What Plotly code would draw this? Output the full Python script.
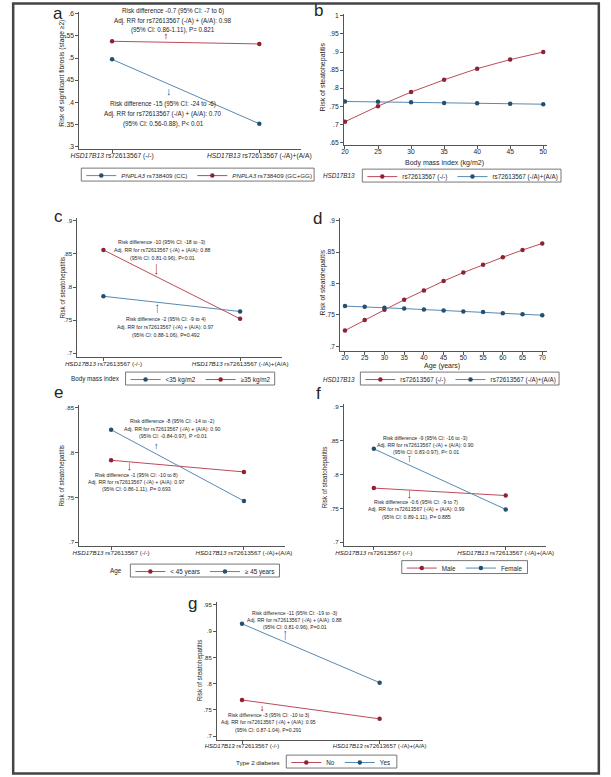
import re
import plotly.graph_objects as go

# ---------------- data ----------------
geno_cats = ["<i>HSD17B13</i> rs72613567 (-/-)", "<i>HSD17B13</i> rs72613567 (-/A)+(A/A)"]
geno_cats_g = ["<i>HSD17B13</i> rs72613567 (-/-)", "<i>HSD17B13</i> rs72613657 (-/A)+(A/A)"]

a_cc = [0.497, 0.351]
a_gcgg = [0.538, 0.532]

bmi = [20, 25, 30, 35, 40, 45, 50]
b_wt = [0.707, 0.750, 0.789, 0.823, 0.854, 0.879, 0.900]
b_var = [0.763, 0.762, 0.761, 0.759, 0.758, 0.7566, 0.7555]

c_lt35 = [0.786, 0.763]
c_ge35 = [0.856, 0.752]

age = [20, 25, 30, 35, 40, 45, 50, 55, 60, 65, 70]
d_wt = [0.725, 0.742, 0.758, 0.774, 0.789, 0.804, 0.8175, 0.830, 0.842, 0.8535, 0.864]
d_var = [0.764, 0.763, 0.7615, 0.760, 0.7585, 0.757, 0.7555, 0.7545, 0.7525, 0.751, 0.7495]

e_lt45 = [0.7915, 0.7785]
e_ge45 = [0.8256, 0.746]

f_male = [0.780, 0.769]
f_female = [0.838, 0.7485]

g_no = [0.769, 0.733]
g_yes = [0.914, 0.802]

ticks_a = [0.3, 0.35, 0.4, 0.45, 0.5, 0.55, 0.6]
labels_a = [".3", ".35", ".4", ".45", ".5", ".55", ".6"]
ticks_b = [0.65, 0.7, 0.75, 0.8, 0.85, 0.9, 0.95, 1.0]
labels_b = [".65", ".7", ".75", ".8", ".85", ".9", ".95", "1"]
ticks_c = [0.7, 0.75, 0.8, 0.85, 0.9]
labels_c = [".7", ".75", ".8", ".85", ".9"]
ticks_e = [0.7, 0.75, 0.8, 0.85]
labels_e = [".7", ".75", ".8", ".85"]
ticks_g = [0.7, 0.75, 0.8, 0.85, 0.9, 0.95]
labels_g = [".7", ".75", ".8", ".85", ".9", ".95"]

# ---------------- style ----------------
W, H = 611, 777
RED_L, RED_M = "#bb4b5a", "#8e2233"
BLUE_L, BLUE_M = "#5889b2", "#24506f"
FONT = "Liberation Sans, Arial, sans-serif"
TXT = "#262626"
AX = "#555555"

# approximate Arial / Liberation Sans advance widths (1/1000 em) for legend frame sizing
CW = {' ': 278, '(': 333, ')': 333, '+': 584, '-': 333, '.': 278, '/': 278, ':': 278,
      '<': 584, '≥': 549, 'A': 667, 'B': 667, 'C': 722, 'D': 722, 'F': 611, 'G': 778,
      'H': 722, 'L': 556, 'M': 833, 'N': 722, 'P': 667, 'S': 667, 'Y': 667,
      'a': 556, 'e': 556, 'g': 556, 'k': 500, 'l': 222, 'm': 833, 'o': 556, 'r': 333,
      's': 500, 'y': 500, 'n': 556, 'i': 222, 't': 278, 'f': 278}


def text_w(s, size):
    s = re.sub(r"<[^>]+>", "", s)
    return sum(CW.get(ch, 556) for ch in s) * size / 1000.0


def fx(p):
    return p / W


def fy(p):
    return 1 - p / H


def lin_range(v1, p1, v2, p2, lo_px, hi_px):
    s = (v2 - v1) / (p2 - p1)
    return [v1 + (lo_px - p1) * s, v1 + (hi_px - p1) * s]


fig = go.Figure()
layout = dict(width=W, height=H, margin=dict(l=0, r=0, t=0, b=0),
              paper_bgcolor="white", plot_bgcolor="white",
              font=dict(family=FONT, color=TXT), showlegend=True)


def axes(n, xl, xr, yt, yb, xrange, yrange, yt_vals, yt_text, xcat, tfs, xtickvals=None):
    xk = "xaxis" if n == 1 else f"xaxis{n}"
    yk = "yaxis" if n == 1 else f"yaxis{n}"
    xa = dict(domain=[fx(xl), fx(xr)], anchor="y" if n == 1 else f"y{n}", range=xrange,
              showline=True, linecolor=AX, linewidth=1, ticks="outside", ticklen=3,
              tickcolor=AX, tickwidth=1, showgrid=False, zeroline=False,
              ticklabelstandoff=-3,
              tickfont=dict(size=tfs, color=TXT, family=FONT))
    if xcat:
        xa["type"] = "category"
    else:
        xa["tickvals"] = xtickvals
    ya = dict(domain=[fy(yb), fy(yt)], anchor="x" if n == 1 else f"x{n}", range=yrange,
              showline=True, linecolor=AX, linewidth=1, ticks="outside", ticklen=3,
              tickcolor=AX, tickwidth=1, showgrid=False, zeroline=False,
              tickvals=yt_vals, ticktext=yt_text,
              tickfont=dict(size=tfs, color=TXT, family=FONT))
    layout[xk] = xa
    layout[yk] = ya


leg_names = {}


def trace(n, x, y, lc, mc, name, leg):
    leg_names.setdefault(leg, []).append(name)
    fig.add_trace(go.Scatter(
        x=x, y=y, mode="lines+markers", name=name,
        xaxis="x" if n == 1 else f"x{n}", yaxis="y" if n == 1 else f"y{n}",
        line=dict(color=lc, width=1), marker=dict(color=mc, size=4.5),
        legend=leg, hoverinfo="skip"))


# panel a
axes(1, 70, 300, 10, 148, lin_range(0, 104, 1, 257, 70, 300),
     lin_range(0.3, 145, 0.6, 12, 148, 10), ticks_a, labels_a, True, 6.7)
trace(1, geno_cats, a_cc, BLUE_L, BLUE_M, "<i>PNPLA3</i> rs738409 (CC)", "legend")
trace(1, geno_cats, a_gcgg, RED_L, RED_M, "<i>PNPLA3</i> rs738409 (GC+GG)", "legend")

# panel b
axes(2, 345, 556, 12, 144, lin_range(20, 346, 50, 552, 345, 556),
     lin_range(0.65, 141, 1.0, 14, 144, 12), ticks_b, labels_b, False, 6.7, bmi)
trace(2, bmi, b_wt, RED_L, RED_M, "rs72613567 (-/-)", "legend2")
trace(2, bmi, b_var, BLUE_L, BLUE_M, "rs72613567 (-/A)+(A/A)", "legend2")

# panel c
axes(3, 68, 281, 217, 357, lin_range(0, 95, 1, 237, 68, 281),
     lin_range(0.7, 353, 0.9, 220, 357, 217), ticks_c, labels_c, True, 6.2)
trace(3, geno_cats, c_lt35, BLUE_L, BLUE_M, "<35 kg/m2", "legend3")
trace(3, geno_cats, c_ge35, RED_L, RED_M, "≥35 kg/m2", "legend3")

# panel d
axes(4, 341, 556, 217, 351, lin_range(20, 346, 70, 551, 341, 556),
     lin_range(0.7, 346, 0.9, 220, 351, 217), ticks_c, labels_c, False, 6.5, age)
trace(4, age, d_wt, RED_L, RED_M, "rs72613567 (-/-)", "legend4")
trace(4, age, d_var, BLUE_L, BLUE_M, "rs72613567 (-/A)+(A/A)", "legend4")

# panel e
axes(5, 70, 284, 405, 547, lin_range(0, 103, 1, 241, 70, 284),
     lin_range(0.7, 543, 0.85, 408, 547, 405), ticks_e, labels_e, True, 6.2)
trace(5, geno_cats, e_lt45, RED_L, RED_M, "< 45 years", "legend5")
trace(5, geno_cats, e_ge45, BLUE_L, BLUE_M, "≥ 45 years", "legend5")

# panel f
axes(6, 345, 555, 404, 547, lin_range(0, 376, 1, 513, 345, 555),
     lin_range(0.7, 543, 0.9, 407, 547, 404), ticks_c, labels_c, True, 6.2)
trace(6, geno_cats, f_male, RED_L, RED_M, "Male", "legend6")
trace(6, geno_cats, f_female, BLUE_L, BLUE_M, "Female", "legend6")

# panel g
axes(7, 213, 427, 603, 742, lin_range(0, 239, 1, 382, 213, 427),
     lin_range(0.7, 738, 0.95, 606, 742, 603), ticks_g, labels_g, True, 6.0)
trace(7, geno_cats_g, g_no, RED_L, RED_M, "No", "legend7")
trace(7, geno_cats_g, g_yes, BLUE_L, BLUE_M, "Yes", "legend7")

# legends (Plotly legend items, thin frame drawn around them)
shapes = []
leg_pos = {"legend": (72, 173.5, 6.2), "legend2": (364, 174.5, 6.3),
           "legend3": (118, 378.5, 6.3), "legend4": (362, 378.5, 6.3),
           "legend5": (123, 571.5, 6.3), "legend6": (405, 568, 6.3),
           "legend7": (285, 763.5, 6.3)}
for k, (lx, ly, fs) in leg_pos.items():
    layout[k] = dict(orientation="h", x=fx(lx), y=fy(ly + 1), xanchor="left", yanchor="middle",
                     borderwidth=0, bgcolor="rgba(0,0,0,0)", itemwidth=30,
                     font=dict(size=fs, family=FONT, color=TXT), tracegroupgap=0)
    wtot = sum(45 + text_w(nm, fs) for nm in leg_names[k]) + 6
    shapes.append(dict(type="rect", xref="paper", yref="paper", x0=fx(lx), x1=fx(lx + wtot),
                       y0=fy(ly + 6.5), y1=fy(ly - 6.5), line=dict(color=AX, width=0.8)))

ann = []


def text(x, y, s, size, angle=0, anchor="center"):
    ann.append(dict(x=fx(x), y=fy(y), xref="paper", yref="paper", text=s, showarrow=False,
                    xanchor=anchor, yanchor="middle", textangle=angle,
                    font=dict(size=size, family=FONT, color=TXT)))


def arrow(x, y_tail, y_head, color):
    ann.append(dict(x=fx(x), y=fy(y_head), xref="paper", yref="paper", ax=0, ay=y_tail - y_head,
                    axref="pixel", ayref="pixel", showarrow=True, text="", arrowhead=1,
                    arrowsize=0.7, arrowwidth=0.7, arrowcolor=color, standoff=0, startstandoff=0))


# panel letters
for s, x, y in [("a", 48, 12), ("b", 318, 9), ("c", 48, 216), ("d", 317, 218),
                ("e", 48, 393), ("f", 318, 394), ("g", 188, 605)]:
    text(x, y, s, 17)

# y titles
text(52, 72, "Risk of significant fibrosis (stage ≥2)", 6.7, -90)
text(323, 75, "Risk of steatohepatitis", 7, -90)
text(52, 287, "Risk of steatohepatitis", 6.3, -90)
text(323, 282, "Risk of steatohepatitis", 6.7, -90)
text(52, 476, "Risk of steatohepatitis", 6.3, -90)
text(325, 478, "Risk of steatohepatitis", 6.3, -90)
text(195, 672, "Risk of steatohepatitis", 6.3, -90)

# x titles
text(449, 162, "Body mass index (kg/m2)", 7)
text(447, 366, "Age (years)", 7)

# outside legend titles
text(340, 174, "<i>HSD17B13</i>", 6.3)
text(87, 379, "Body mass index", 6.3)
text(340, 379, "<i>HSD17B13</i>", 6.3)
text(108.5, 571.5, "Age", 6.3)
text(255.5, 764, "Type 2 diabetes", 6.2)

# result annotations
blocks = [
    (167, [9.5, 19, 28.5], 6.3, ["Risk difference -0.7 (95% CI: -7 to 6)",
                                 "Adj. RR for rs72613567 (-/A) + (A/A): 0.98",
                                 "(95% CI: 0.86-1.11), P= 0.821"]),
    (157, [103, 113, 123], 6.3, ["Risk difference -15 (95% CI: -24 to -6)",
                                 "Adj. RR for rs72613567 (-/A) + (A/A): 0.70",
                                 "(95% CI: 0.56-0.88), P< 0.01"]),
    (156, [241, 249, 257], 5.2, ["Risk difference -10 (95% CI: -18 to -3)",
                                 "Adj. RR for rs72613567 (-/A) + (A/A): 0.88",
                                 "(95% CI: 0.81-0.96), P<0.01"]),
    (160, [318.5, 327, 335], 5.2, ["Risk difference -2 (95% CI: -9 to 4)",
                                   "Adj. RR for rs72613567 (-/A) + (A/A): 0.97",
                                   "(95% CI: 0.88-1.06), P=0.492"]),
    (167, [421, 429, 436], 5.2, ["Risk difference -8 (95% CI: -14 to -2)",
                                 "Adj. RR for rs72613567 (-/A) + (A/A): 0.90",
                                 "(95% CI: -0.84-0.97), P <0.01"]),
    (129, [475.7, 482.7, 490], 5.2, ["Risk difference -1 (95% CI: -10 to 8)",
                                     "Adj. RR for rs72613567 (-/A) + (A/A): 0.97",
                                     "(95% CI: 0.86-1.11), P= 0.693"]),
    (430, [438, 445, 452], 5.2, ["Risk difference -9 (95% CI: -16 to -3)",
                                 "Adj. RR for rs72613567 (-/A) + (A/A): 0.90",
                                 "(95% CI: 0.83-0.97), P< 0.01"]),
    (420, [502.7, 510, 517.3], 5.2, ["Risk difference -0.6 (95% CI: -9 to 7)",
                                     "Adj. RR for rs72613567 (-/A) + (A/A): 0.99",
                                     "(95% CI: 0.89-1.11), P= 0.885"]),
    (294, [614, 621, 628], 5.1, ["Risk difference -11 (95% CI: -19 to -3)",
                                 "Adj. RR for rs72613567 (-/A) + (A/A): 0.88",
                                 "(95% CI: 0.81-0.96), P=0.01"]),
    (267, [717, 724, 732], 5.1, ["Risk difference -3 (95% CI: -10 to 3)",
                                 "Adj. RR for rs72613567 (-/A) + (A/A): 0.95",
                                 "(95% CI: 0.87-1.04), P=0.291"]),
]
for cx, ys, size, lines in blocks:
    for yy, s in zip(ys, lines):
        text(cx, yy, s, size)

# arrows
arrow(160, 39, 32, RED_L)
arrow(163, 86, 94, BLUE_L)
arrow(150, 262, 274, RED_L)
arrow(151, 314, 304, BLUE_L)
arrow(150, 451, 444, BLUE_L)
arrow(122, 462, 471, RED_L)
arrow(413, 464, 456, BLUE_L)
arrow(413, 490, 499, RED_L)
arrow(284, 643, 632, BLUE_L)
arrow(260, 706, 713, RED_L)

layout["annotations"] = ann
shapes.append(dict(type="rect", xref="paper", yref="paper", x0=0.002, x1=0.998,
                   y0=0.002, y1=0.998, line=dict(color="#444444", width=2.5)))
layout["shapes"] = shapes

fig.update_layout(**layout)
fig.write_html("out.html", config={"displayModeBar": False},
               post_script="document.body.style.margin='0px';document.body.style.overflow='hidden';")
